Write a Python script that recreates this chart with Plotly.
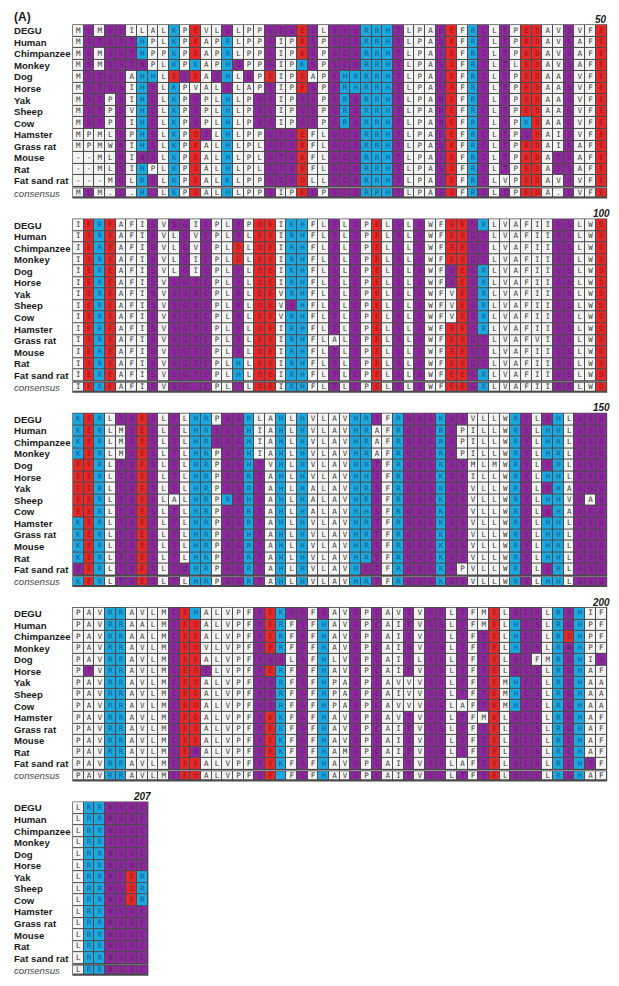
import plotly.graph_objects as go

# ---------------- data ----------------
species = ["DEGU", "Human", "Chimpanzee", "Monkey", "Dog", "Horse", "Yak", "Sheep",
           "Cow", "Hamster", "Grass rat", "Mouse", "Rat", "Fat sand rat"]

aln_001_050 = [
    "MSMQSILALKPEVLSLPPGTSESLSYQ" + "RRHTLPASEFRCLTPEDAVSVFE",
    "MSTQSTHPLKPEAPRLPPGIPESPSCQ" + "RRHTLPASEFRCLTPEDAVSAFE",
    "MSMQSTHPPKPEAPRLPPGIPESPSCQ" + "RRHTLPASEFRCLTPEDAVSAFE",
    "MSMQSTNPLKPKAPHQPPGIPKSPSCQ" + "RRHTLPASEFRCLTLEDAVSAFE",
    "MSTQSAHHLESEASHLQPEIPEAPSHR" + "RRHTLPASEFRCLTPEDAASVFE",
    "MSTQSIHYLKPVALCLAPGIPESPSRH" + "RRHTLPASEFRCLTPEDAASVFE",
    "MSTPSIHCLKPSPLHLPSGIPGSPGRQ" + "RRHTLPANEFRCLTPEDAAGVFE",
    "MSTPSVHCLKPSPLHLPSGIPGSPGRQ" + "RRHTLPANEFRCLTPEDAAGVFE",
    "MSTPSIHCLKPSPLHLPSGIPGSPGRQ" + "RRHTLPANEFRCLTPKDAAGVFE",
    "MPMLSPHSLKPDTLHLPPGTSEFLGCQ" + "RRHTLPASEFRCLTPQDAISVFE",
    "MPMWNIHSLKPEALHLPLGTSEFLGCQ" + "RRHTLPASEFRCLTPEDAISAFE",
    "--MLNINSLKPEALHLPLGTSEFLGCQ" + "RRHTLPASEFRCLTPEDATSAFE",
    "--MLSIHPLKPEALHLPLGTSEFLGCQ" + "RRHTLPASEFRCLTPEDATSAFE",
    "---MGLRSLKPEALKLPPGTSDLLGCQ" + "RRHTLPASEFRCLVPEDAVSVFE",
]
aln_051_100 = [
    "IEREAFISVSGICPLYPDEIKHFLTLC" + "PELSLGWFEEGRLVAFIIGSLWD",
    "IEREAFISVLGVCPLYLDEIRHFLTLC" + "PELSLGWFEEGCLVAFIIGSLWD",
    "IEREAFISVLGVCPLDLDEIRHFLTLC" + "PELSLGWFEEGCLVAFIIGSLWD",
    "IEREAFISVLGICPLDLDEIRHFLTLC" + "PELSLGWFEEGCLVAFIIGSLWD",
    "IEREAFISVLGICPLYLDEIKHFLSLC" + "PELSLGWFQEGRLVAFIIGSLWD",
    "IEREAFISVSGTCPLYLDEIRHFLTLC" + "PELSLGWFQEGRLVAFIIGSLWD",
    "IEREAFISVSGNCPLNLDEVRHFLTLC" + "PELSLGWFVEGRLVAFIIGSLWD",
    "IEREAFISVSGNCPLNLDEVQHFLTLC" + "PELSLGWFVEGRLVAFIIGSLWD",
    "IEREAFISVSGNCPLNLDEVRHFLTLC" + "PELSLGWFVEGRLVAFIIGSLWD",
    "IEREAFISVSGTCPLYLDEIRHFLTLC" + "PELSLGWFEEGRLVAFIIGSLWD",
    "IEREAFISVSGTCPLYLDEIRHFLALC" + "PELSLGWFEEGCLVAFVIGSLWD",
    "IEREAFISVSGTCPLYLDEIRHFLTLC" + "PELSLGWFEEGCLVAFIIGSLWD",
    "IEREAFISVSGTCPLHLDEIRHFLTLC" + "PELSLGWFEEGCLVAFIIGSLWD",
    "IEREAFISVSGTCPLHLDEIRHFLTLC" + "PELSLGWFEEGRLVAFIIGSLWD",
]
aln_101_150 = [
    "KERLTQESLTLHRPGGRLAHLHVLAVH" + "RTFRQQGKGSVLLWRYLQHLGSQ",
    "KERLMQESLTLHRSGGHIAHLHVLAVH" + "RAFRQQGRGPILLWRYLHHLGSQ",
    "KERLMQESLTLHRSGGHIAHLHVLAVH" + "RAFRQQGRGPILLWRYLHHLGSQ",
    "KERLMQESLTLHRPGGHIAHLHVLAVH" + "RAFRQQGRGPILLWRYLHRLGSQ",
    "EERLTQESLTLHRPGGHTVHLHVLAVH" + "HTFRQQGKGSMLMWRYLYHLGSQ",
    "EERLTQESLTLHRPGGRTAHLHVLAVH" + "HTFRQQGKGSILLWRYLHHLGSQ",
    "EERLTQESLTLHRPGGRTAHLHALAVH" + "RSFRQQGKGSVLLWRYLQHAGGQ",
    "EERLTQESLALHRPRGHSAHLHALAVH" + "RSFRQQGKGSVLLWRYLHHVGAQ",
    "EERLTQESLTLHRPGGRTAHLHALAVH" + "HSFRQQGKGSVLLWRYLQHAGGQ",
    "KERLTQESLTLHRPGGRTAHLHVLAVH" + "RTFRQQGKGSVLLWRYLHHLGSQ",
    "KERLTQESLTLHRPGGHTAHLHVLAVH" + "RTFRQQGKGSVLLWRYLHHLGSQ",
    "KERLTQESLTLHRPGGRTAHLHVLAVH" + "RTFRQQGKGSVLLWRYLHHLGSQ",
    "KERLTQESLTLHRPGGRTAHLHVLAVH" + "RTFRQQGKGSVLLWRYLHHLGSQ",
    "QERLTQESLTQHRPGGRTAHLHVLAVH" + "CTFRQQGKGPVLLWRYLQHLGSQ",
]
aln_151_200 = [
    "PAVRRAVLMCEHALVPFYEKSGFQAVG" + "PCAVTVGSLTFMELQCSLRSHIF",
    "PAVRRAALMCEDALVPFYERFSFHAVG" + "PCAITVGSLTFMELHCSLRGHPF",
    "PAVRRAALMCEDALVPFYERFSFHAVG" + "PCAITVGSLTFTELHCSLRDHPF",
    "PAVRRAVLMCEDVLVPFYERFGFHAVG" + "PCAISVGSLTFTELHCSLRNHPF",
    "PAVRRAVLMCEDALVPFYQSLGFHLVG" + "PCAITLGSLTFTELQCFMRGHIS",
    "PTVRRAVLMCEDTLVPFYERFGFHAVG" + "PCAITVGSLTFTELQCSLRGHAF",
    "PAVRRAVLMCEDALVPFYQRFGFHPAG" + "PCAVVVGSLTFTEMHCSLRGHAA",
    "PAVRRAVLMCEDALVPFYQRFGFHPAG" + "PCAIVVGSLTFTEMHCSLRGHAA",
    "PAVRRAVLMCEDALVPFYQRFGFHPAG" + "PCAVVVGSLAFTEMHCSLRGHAA",
    "PAVRRAVLMCEDALVPFYEKFGFHAVG" + "PCAVTVGSLTFMELQCSLRGHAF",
    "PAVRRAVLMCEEALVPFYEKFGFHAVG" + "PCAITVGSLTFTELQCSLRGHAF",
    "PAVRRAVLMCEDALVPFYEKFGFHAVG" + "PCAITVGSLTFTELQCSLRCHAF",
    "PAVRRAVLMCENALVPFYEKFGFHAMG" + "PCAITVGSLTFTELQCSLRCHAF",
    "PAVRRAVLMCEDALVPFYEKFGFHAVG" + "PCAITVGSLAFTELQCSLRCHTF",
]
aln_201_207 = [
    "LRRNSGC", "LRRNSGC", "LRRNSGC", "LRRSSGC", "LRRNSGC", "LRRNSNC", "LRRNSDR",
    "LRRNSDR", "LRRNSDR", "LRRNSGC", "LRRNSGC", "LRRNSGC", "LRRNSGC", "LRRNSGC",
]
consensus_blocks = [
    "MSM.S.H_LKPEALHLPPGIPESPGCQ" + "RRHTLPASEFRCLTPEDA.SVFE",
    "IEREAFISVSG_CPL_LDEIRHFLTLC" + "PELSLGWFEEGRLVAFIIGSLWD",
    "KERLTQESLTLHRPGGRTAHLHVLAVH" + "RTFRQQGKGSVLLWRYLHHLGSQ",
    "PAVRRAVLMCEDALVPFYE_FGFHAVG" + "PCAITVGSLTFTELQCSLRGHAF",
    "LRRNSGC",
]
# residue class shown for blank consensus positions (1-based alignment position)
consensus_blank_class = {8: "polar", 62: "polar", 66: "polar", 170: "basic"}
block_end_labels = ["50", "100", "150", "200", "207"]
blocks = [aln_001_050, aln_051_100, aln_101_150, aln_151_200, aln_201_207]

# ---------------- style ----------------
CLASS_CODE = {"none": 0, "polar": 1, "basic": 2, "acidic": 3}
CELL_COL = ["#f3f3f3", "#8d2a9b", "#1ca9e1", "#e5292b"]
TEXT_COL = ["#3a3a3a", "#621a70", "#145f8e", "#9b1517"]
GRID = "#4a4a4a"
CS = [[0, CELL_COL[0]], [0.1667, CELL_COL[0]], [0.1667, CELL_COL[1]], [0.5, CELL_COL[1]],
      [0.5, CELL_COL[2]], [0.8333, CELL_COL[2]], [0.8333, CELL_COL[3]], [1, CELL_COL[3]]]


def res_class(ch):
    if ch in "DE":
        return 3
    if ch in "KRH":
        return 2
    if ch in "STGCNQY":
        return 1
    return 0


OFF = 8.0                      # page body margin
W, H = 603, 970
CW, X0 = 10.67, 73.0 - OFF     # cell width, left edge of cells (figure px)
RH, Y0, BS = 11.56, 30.7 - OFF, 194.3  # row pitch, first row centre, block spacing
LABEL_X = 12.0 - OFF
LABEL_SIZE = 9.6


def xd(px):
    return (px - X0) / CW - 0.5


def yd(py):
    return py / RH


fig = go.Figure()
shapes, annotations = [], []
tx, ty, tt, tc = [], [], [], []
pad_x, pad_y = 0.7 / CW, 0.7 / RH

offset = 0
for b, rows in enumerate(blocks):
    n = len(rows[0])
    ycen = [yd(Y0 + b * BS + r * RH) for r in range(len(rows))]
    z = [[res_class(ch) for ch in row] for row in rows]
    fig.add_trace(go.Heatmap(x=list(range(n)), y0=ycen[0], dy=1, z=z, zmin=0, zmax=3,
                             colorscale=CS, showscale=False, xgap=1, ygap=1,
                             hoverinfo="skip"))
    shapes.append(dict(type="rect", xref="x", yref="y", layer="below",
                       x0=-0.5 - pad_x, x1=n - 0.5 + pad_x,
                       y0=ycen[0] - 0.5 - pad_y, y1=ycen[-1] + 0.5 + pad_y,
                       fillcolor=GRID, line=dict(width=0)))
    for r, row in enumerate(rows):
        for c, ch in enumerate(row):
            tx.append(c); ty.append(ycen[r]); tt.append(ch)
            tc.append(TEXT_COL[res_class(ch)])
        annotations.append(dict(x=xd(LABEL_X), y=ycen[r], xref="x", yref="y",
                                text="<b>%s</b>" % species[r], showarrow=False,
                                xanchor="left", yanchor="middle",
                                font=dict(family="Liberation Sans", size=LABEL_SIZE,
                                          color="#1a1a1a")))
    # consensus row
    cons = consensus_blocks[b]
    yc = yd(Y0 + b * BS + 13 * RH + 12.1)
    hc = 0.82
    zc = []
    for c, ch in enumerate(cons):
        if ch == "_":
            zc.append(CLASS_CODE[consensus_blank_class.get(offset + c + 1, "none")])
        else:
            zc.append(res_class(ch))
            tx.append(c); ty.append(yc); tt.append(ch)
            tc.append(TEXT_COL[res_class(ch)])
    fig.add_trace(go.Heatmap(x=list(range(n)), y0=yc, dy=hc, z=[zc], zmin=0, zmax=3,
                             colorscale=CS, showscale=False, xgap=1, ygap=1,
                             hoverinfo="skip"))
    shapes.append(dict(type="rect", xref="x", yref="y", layer="below",
                       x0=-0.5 - pad_x, x1=n - 0.5 + pad_x,
                       y0=yc - hc / 2 - pad_y, y1=yc + hc / 2 + pad_y,
                       fillcolor=GRID, line=dict(width=0)))
    annotations.append(dict(x=xd(LABEL_X), y=yc, xref="x", yref="y",
                            text="<i>consensus</i>", showarrow=False,
                            xanchor="left", yanchor="middle",
                            font=dict(family="Liberation Sans", size=LABEL_SIZE,
                                      color="#444444")))
    annotations.append(dict(x=n - 1, y=ycen[0] - 1.0, xref="x", yref="y",
                            text="<b><i>%s</i></b>" % block_end_labels[b], showarrow=False,
                            xanchor="center", yanchor="middle",
                            font=dict(family="Liberation Sans", size=10, color="#1a1a1a")))
    offset += n

fig.add_trace(go.Scatter(x=tx, y=ty, text=tt, mode="text", hoverinfo="skip",
                         textposition="middle center",
                         textfont=dict(family="DejaVu Sans Mono", size=7.5, color=tc)))

annotations.append(dict(x=xd(LABEL_X), y=yd(16.7 - OFF), xref="x", yref="y", text="<b>(A)</b>",
                        showarrow=False, xanchor="left", yanchor="middle",
                        font=dict(family="Liberation Sans", size=12, color="#1a1a1a")))

fig.update_layout(
    width=W, height=H, margin=dict(l=0, r=0, t=0, b=0),
    paper_bgcolor="white", plot_bgcolor="white", showlegend=False,
    shapes=shapes, annotations=annotations,
    xaxis=dict(range=[xd(0), xd(W)], visible=False, fixedrange=True),
    yaxis=dict(range=[yd(H), yd(0)], visible=False, fixedrange=True),
)
fig.write_html("out.html")
